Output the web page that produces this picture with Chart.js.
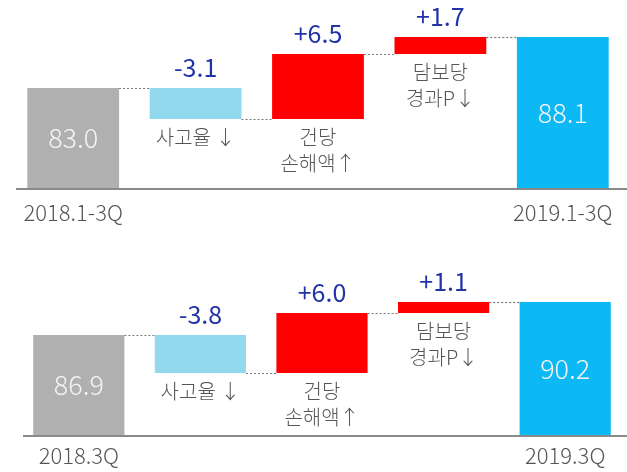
<!DOCTYPE html>
<html>
<head>
<meta charset="utf-8">
<script src="https://cdn.jsdelivr.net/npm/chart.js"></script>
<style>
  html, body { margin: 0; padding: 0; background: #fff; }
  canvas { display: block; }
</style>
</head>
<body>
<canvas id="chartTop" width="627" height="236"></canvas>
<canvas id="chartBottom" width="627" height="236"></canvas>
<script>
// 상단: 누적(1-3Q)
const axisLabelsTop = ['2018.1-3Q', '', '', '', '2019.1-3Q'];
const startTop = 83.0;
const deltasTop = [-3.1, 6.5, 1.7];
const endTop = 88.1;
const axisMinTop = 73.0;

// 하단: 3Q
const axisLabelsBottom = ['2018.3Q', '', '', '', '2019.3Q'];
const startBottom = 86.9;
const deltasBottom = [-3.8, 6.0, 1.1];
const endBottom = 90.2;
const axisMinBottom = 76.9;

// 증감 요인 설명
const stepLabels = [['사고율 ↓'], ['건당', '손해액↑'], ['담보당', '경과P↓']];

const FONT = "'Noto Sans CJK KR', 'Noto Sans', sans-serif";

function buildBars(start, deltas, end, axisMin) {
    const bars = [[axisMin, start]];
    const levels = [start];
    let run = start;
    deltas.forEach(d => {
        const next = Math.round((run + d) * 10) / 10;
        bars.push([Math.min(run, next), Math.max(run, next)]);
        run = next;
        levels.push(run);
    });
    bars.push([axisMin, end]);
    levels.push(end);
    return { bars, levels };
}

const waterfallPlugin = {
    id: 'waterfall',
    afterDatasetsDraw(chart, args, opts) {
        const ctx = chart.ctx;
        const y = chart.scales.y;
        const area = chart.chartArea;
        const els = chart.getDatasetMeta(0).data;
        ctx.save();

        // 기준선
        ctx.strokeStyle = '#8a8a8a';
        ctx.lineWidth = 2;
        ctx.beginPath();
        ctx.moveTo(area.left + opts.lineStart, area.bottom + 1);
        ctx.lineTo(chart.width, area.bottom + 1);
        ctx.stroke();

        // 점선 연결
        ctx.strokeStyle = '#777';
        ctx.lineWidth = 1.2;
        ctx.setLineDash([2, 2]);
        for (let i = 0; i < els.length - 1; i++) {
            const a = els[i], b = els[i + 1];
            const py = Math.round(y.getPixelForValue(opts.levels[i])) + 0.5;
            ctx.beginPath();
            ctx.moveTo(a.x + a.width / 2, py);
            ctx.lineTo(b.x - b.width / 2, py);
            ctx.stroke();
        }
        ctx.setLineDash([]);

        // 합계 라벨 (막대 안)
        ctx.textAlign = 'center';
        ctx.textBaseline = 'middle';
        ctx.font = '300 27px ' + FONT;
        ctx.fillStyle = '#f4f4f4';
        [0, els.length - 1].forEach(i => {
            const el = els[i];
            ctx.fillText(opts.levels[i].toFixed(1), el.x, (el.y + el.base) / 2);
        });

        // 증감 라벨
        opts.deltas.forEach((d, k) => {
            const el = els[k + 1];
            const top = Math.min(el.y, el.base);
            const bottom = Math.max(el.y, el.base);
            ctx.font = '25px ' + FONT;
            ctx.fillStyle = '#2234a8';
            ctx.textBaseline = 'bottom';
            ctx.fillText((d > 0 ? '+' : '') + d.toFixed(1), el.x, top - 8);
            ctx.font = '300 20px ' + FONT;
            ctx.fillStyle = '#555';
            ctx.textBaseline = 'top';
            stepLabels[k].forEach((line, j) => {
                ctx.fillText(line, el.x, bottom + 8 + j * 26);
            });
        });
        ctx.restore();
    }
};

function makeChart(id, labels, start, deltas, end, axisMin, axisMax, pad, axisH, tickPad, lineStart) {
    const wf = buildBars(start, deltas, end, axisMin);
    return new Chart(document.getElementById(id), {
        type: 'bar',
        data: {
            labels: labels,
            datasets: [{
                data: wf.bars,
                backgroundColor: ['#b0b0b0', '#92d9ee', '#ff0000', '#ff0000', '#0db9f5'],
                borderWidth: 0,
                barPercentage: 0.75,
                categoryPercentage: 1.0
            }]
        },
        options: {
            responsive: false,
            animation: false,
            devicePixelRatio: 1,
            layout: { padding: pad },
            plugins: {
                legend: { display: false },
                tooltip: { enabled: false },
                waterfall: { levels: wf.levels, deltas: deltas, lineStart: lineStart }
            },
            scales: {
                x: {
                    grid: { display: false, drawTicks: false },
                    border: { display: false },
                    afterFit(scale) { scale.height = axisH; },
                    ticks: {
                        color: '#555',
                        font: { family: FONT, size: 22, weight: '300', lineHeight: 1.2 },
                        padding: tickPad,
                        maxRotation: 0,
                        autoSkip: false
                    }
                },
                y: {
                    display: false,
                    min: axisMin,
                    max: axisMax
                }
            }
        },
        plugins: [waterfallPlugin]
    });
}

makeChart('chartTop', axisLabelsTop, startTop, deltasTop, endTop, axisMinTop, 91.8,
    { left: 12, right: 3, top: 0, bottom: 0 }, 48, 11, 4);
makeChart('chartBottom', axisLabelsBottom, startBottom, deltasBottom, endBottom, axisMinBottom, 96.8,
    { left: 18, right: 1, top: 0, bottom: 0 }, 37, 7, 5);
</script>
</body>
</html>
